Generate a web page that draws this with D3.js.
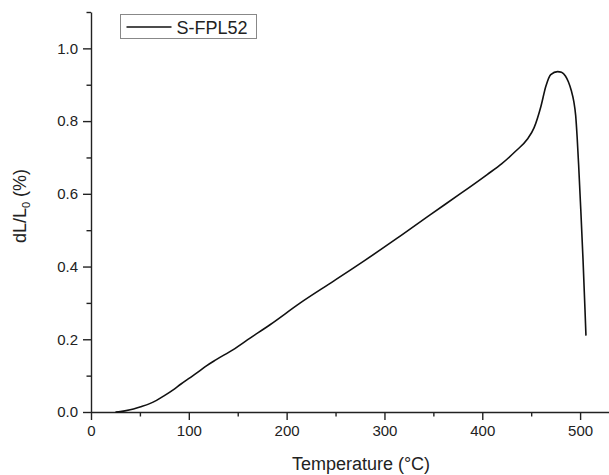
<!DOCTYPE html>
<html>
<head>
<meta charset="utf-8">
<script src="https://cdn.jsdelivr.net/npm/d3@7"></script>
<style>
  body { margin: 0; background: #fff; }
  svg { display: block; font-family: "Liberation Sans", Arial, sans-serif; }
</style>
</head>
<body>
<div id="chart"></div>
<script>
// dilatometer curve
const temperature = [25, 30, 40, 50, 60, 67, 75, 84, 92, 101, 110, 118, 128, 145, 163, 183, 214,
  248, 280, 313, 347, 378, 405, 420, 434, 446, 453, 460, 465, 470, 477, 481, 485, 488, 491, 493.5,
  495.5, 497, 498.5, 500.7, 503, 505, 506];
const dL = [0.000, 0.001, 0.006, 0.014, 0.023, 0.032, 0.045, 0.061, 0.077, 0.094, 0.111, 0.127, 0.144, 0.171, 0.204, 0.240, 0.300,
  0.360, 0.417, 0.478, 0.543, 0.601, 0.653, 0.683, 0.717, 0.750, 0.782, 0.841, 0.896, 0.928, 0.936, 0.934, 0.924, 0.908, 0.884, 0.855,
  0.815, 0.755, 0.680, 0.557, 0.419, 0.282, 0.210];
const seriesName = "S-FPL52";
const xTicks = [0, 100, 200, 300, 400, 500];
const yTicks = [0.0, 0.2, 0.4, 0.6, 0.8, 1.0];

const data = temperature.map((t, i) => ({ t, v: dL[i] }));

const W = 609, H = 475;
const margin = { top: 12, right: -20, bottom: 63, left: 91 };
const width = W - margin.left - margin.right;
const height = H - margin.top - margin.bottom;

const svg = d3.select("#chart")
  .append("svg")
  .attr("width", W)
  .attr("height", H);

const g = svg.append("g")
  .attr("transform", `translate(${margin.left},${margin.top})`);

const x = d3.scaleLinear().domain([0, 550]).range([0, width]);
const y = d3.scaleLinear().domain([0, 1.1]).range([height, 0]);

// minor ticks
g.append("g")
  .attr("transform", `translate(0,${height})`)
  .call(d3.axisBottom(x).tickValues(d3.range(50, 551, 100)).tickSize(4.5).tickFormat(""))
  .call(a => a.select(".domain").remove());
g.append("g")
  .call(d3.axisLeft(y).tickValues(d3.range(0.1, 1.11, 0.2)).tickSize(4.5).tickFormat(""))
  .call(a => a.select(".domain").remove());

// major axes
const xAxis = g.append("g")
  .attr("transform", `translate(0,${height})`)
  .call(d3.axisBottom(x).tickValues(xTicks).tickSize(8).tickSizeOuter(0).tickPadding(5).tickFormat(d3.format("d")));
const yAxis = g.append("g")
  .call(d3.axisLeft(y).tickValues(yTicks).tickSize(8).tickSizeOuter(0).tickPadding(5).tickFormat(d3.format(".1f")));

[xAxis, yAxis].forEach(a => {
  a.selectAll("path, line").attr("stroke", "#222").attr("stroke-width", 1.4);
  a.selectAll("text").attr("fill", "#222").style("font-size", "15px");
});
g.selectAll(".tick line").attr("stroke", "#222").attr("stroke-width", 1.4);

// curve
g.append("path")
  .datum(data)
  .attr("fill", "none")
  .attr("stroke", "#111")
  .attr("stroke-width", 1.6)
  .attr("d", d3.line().x(d => x(d.t)).y(d => y(d.v)).curve(d3.curveMonotoneX));

// axis titles
svg.append("text")
  .attr("x", 361)
  .attr("y", 470)
  .attr("text-anchor", "middle")
  .style("font-size", "18px")
  .attr("fill", "#222")
  .text("Temperature (°C)");

const yt = svg.append("text")
  .attr("transform", "translate(26,206) rotate(-90)")
  .attr("text-anchor", "middle")
  .style("font-size", "18px")
  .attr("fill", "#222");
yt.append("tspan").text("dL/L");
yt.append("tspan").attr("dy", 4).style("font-size", "11px").text("0");
yt.append("tspan").attr("dy", -4).text(" (%)");

// legend
const lg = svg.append("g").attr("transform", "translate(120.5,14.5)");
lg.append("rect")
  .attr("width", 136).attr("height", 24)
  .attr("fill", "#fff").attr("stroke", "#888").attr("stroke-width", 1);
lg.append("line")
  .attr("x1", 6).attr("x2", 51).attr("y1", 12.5).attr("y2", 12.5)
  .attr("stroke", "#111").attr("stroke-width", 1.6);
lg.append("text")
  .attr("x", 56).attr("y", 19)
  .style("font-size", "18px")
  .attr("fill", "#222")
  .text(seriesName);
</script>
</body>
</html>
